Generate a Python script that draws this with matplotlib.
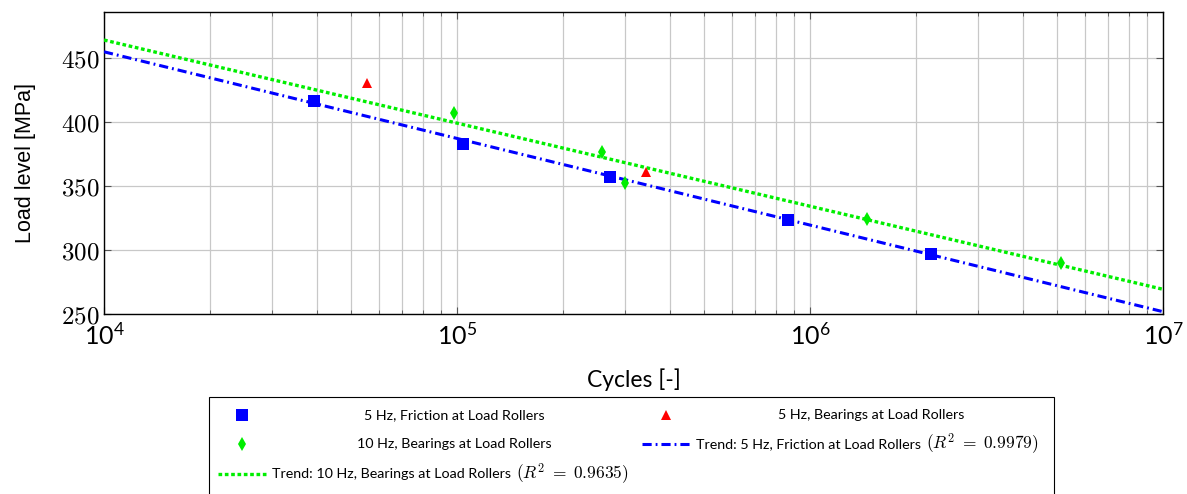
import matplotlib
matplotlib.use("Agg")
import matplotlib.pyplot as plt
from matplotlib.lines import Line2D
from matplotlib.patches import Rectangle
from matplotlib.ticker import FixedLocator, FuncFormatter, LogLocator, NullFormatter
import numpy as np

# --- data ---
friction_5hz_cycles = [3.94e4, 1.04e5, 2.71e5, 8.67e5, 2.20e6]
friction_5hz_load = [416.6, 382.6, 357.0, 323.4, 296.6]

bearings_5hz_cycles = [5.55e4, 3.43e5]
bearings_5hz_load = [430.5, 361.0]

bearings_10hz_cycles = [9.8e4, 2.58e5, 2.99e5, 1.45e6, 5.15e6]
bearings_10hz_load = [406.8, 376.3, 352.6, 324.2, 289.6]

trend_cycles = [1e4, 1e7]
trend_5hz_load = [454.9, 251.8]
trend_10hz_load = [464.1, 269.3]

labels = ["5 Hz, Friction at Load Rollers",
          "5 Hz, Bearings at Load Rollers",
          "10 Hz, Bearings at Load Rollers",
          "Trend: 5 Hz, Friction at Load Rollers ",
          "Trend: 10 Hz, Bearings at Load Rollers "]
r2_labels = [None, None, None, r"$(R^2\;=\;0.9979)$", r"$(R^2\;=\;0.9635)$"]

plt.rcParams['mathtext.fontset'] = 'cm'
plt.rcParams['font.family'] = ['Lato', 'DejaVu Sans']

W, H = 1187, 494
fig = plt.figure(figsize=(W / 100, H / 100), dpi=100)
ax = fig.add_axes([104 / W, 1 - 314 / H, (1163 - 104) / W, (314 - 12) / H])

sq_style = dict(ls='none', marker='s', ms=8, mew=0, color='#0000ff')
tri_style = dict(ls='none', marker='^', ms=7.5, mew=0, color='#ff0000')
dia_style = dict(ls='none', marker='d', ms=7.6, mew=0, color='#00ee00')
blue_trend = dict(color='#0000ff', lw=2.2, dashes=(3.0, 1.3, 0.6, 1.3), dash_capstyle='butt')
green_trend = dict(color='#00ee00', lw=2.4, dashes=(1.1, 0.8), dash_capstyle='butt')

ax.plot(trend_cycles, trend_10hz_load, **green_trend, zorder=3)
ax.plot(trend_cycles, trend_5hz_load, **blue_trend, zorder=3)
ax.plot(friction_5hz_cycles, friction_5hz_load, **sq_style, zorder=4)
ax.plot(bearings_5hz_cycles, bearings_5hz_load, **tri_style, zorder=4)
ax.plot(bearings_10hz_cycles, bearings_10hz_load, **dia_style, zorder=4)

ax.set_xscale('log')
ax.set_xlim(1e4, 1e7)
ax.set_ylim(250, 486)
ax.xaxis.set_major_locator(LogLocator(base=10, numticks=10))
ax.xaxis.set_minor_locator(LogLocator(base=10, subs=np.arange(2, 10), numticks=20))
ax.xaxis.set_minor_formatter(NullFormatter())
ax.yaxis.set_major_locator(FixedLocator([250, 300, 350, 400, 450]))
ax.yaxis.set_major_formatter(FuncFormatter(lambda v, p: r'$%d$' % v))

ax.grid(True, which='major', color='#c8c8c8', lw=0.9)
ax.grid(True, which='minor', axis='x', color='#c8c8c8', lw=0.9)
ax.set_axisbelow(True)
ax.tick_params(which='both', direction='in', top=True, right=True, labelsize=18, color='#555555')
ax.tick_params(which='major', length=5, width=0.8)
ax.tick_params(which='minor', length=3, width=0.6)
ax.tick_params(axis='x', pad=6)
for s in ax.spines.values():
    s.set_linewidth(1.0)

ax.set_xlabel('Cycles [-]', fontsize=16.5, labelpad=14)
ax.set_ylabel('Load level [MPa]', fontsize=15.5, labelpad=18,
              family=['Liberation Sans', 'DejaVu Sans'])

# --- legend box below the axes (text centred in each column cell) ---
def fx(px):
    return px / W

def fy(py):
    return 1 - py / H

fig.patches.append(Rectangle((fx(209), fy(510)), fx(1054) - fx(209), fy(397) - fy(510),
                             transform=fig.transFigure, fill=False, ec='black', lw=0.8))

entries = [(sq_style, 0, 0, 0), (tri_style, 1, 1, 0),
           (dia_style, 2, 0, 1), (blue_trend, 3, 1, 1),
           (green_trend, 4, 0, 2)]
handle_x = [(218, 266), (642, 690)]
cell_x = [(272, 636), (696, 1046)]
row_y = [415, 444, 474]
for style, i, col, row in entries:
    x0, x1 = handle_x[col]
    y = fy(row_y[row])
    if style.get('ls') == 'none':
        fig.add_artist(Line2D([fx((x0 + x1) / 2)], [y], transform=fig.transFigure, **style))
    else:
        fig.add_artist(Line2D([fx(x0), fx(x1)], [y, y], transform=fig.transFigure, **style))
    c0, c1 = cell_x[col]
    if r2_labels[i] is None:
        fig.text(fx((c0 + c1) / 2), y, labels[i], ha='center', va='center', fontsize=10.3)
    else:
        t = fig.text(fx(c0), y, labels[i], ha='left', va='center', fontsize=10.3)
        fig.add_artist(matplotlib.text.Annotation(
            r2_labels[i], xy=(1, 0.5), xycoords=t, xytext=(1, 0), textcoords='offset points',
            ha='left', va='center', fontsize=12.5))

fig.savefig('out.png', dpi=100)
